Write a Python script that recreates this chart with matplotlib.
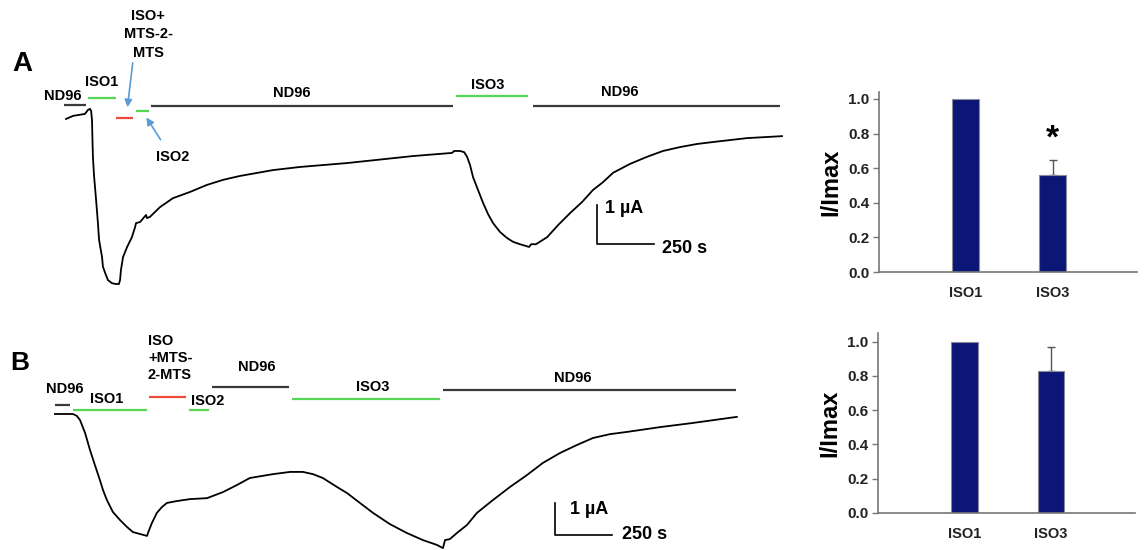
import matplotlib
matplotlib.use("Agg")
import matplotlib.pyplot as plt

plt.rcParams['font.family'] = ['Liberation Sans', 'DejaVu Sans']
plt.rcParams['font.weight'] = 'bold'

W, H = 1144, 550

# ---------------- data ----------------
# Panel A trace (time in s, current in uA, relative to start)
A_t = [0, 31, 83, 96, 105, 110, 114, 116, 118, 123, 132, 140, 145, 158, 162, 175, 184, 202,
       219, 232, 237, 241, 250, 268, 289, 303, 307, 325, 351, 355, 368, 412, 469, 544, 618,
       689, 763, 908, 1026, 1232, 1522, 1693, 1702, 1728, 1746, 1759, 1772, 1785, 1807,
       1829, 1851, 1873, 1904, 1934, 1961, 1991, 2031, 2040, 2061, 2110, 2158, 2211, 2263,
       2311, 2355, 2399, 2474, 2548, 2618, 2693, 2768, 2838, 2987, 3140]
A_i = [0, 0.08, 0.13, 0.23, 0.26, 0.21, -0.03, -0.54, -0.97, -1.46, -2.08, -2.67, -3.10,
       -3.54, -3.79, -4.00, -4.13, -4.21, -4.23, -4.23, -4.13, -3.87, -3.54, -3.28, -3.03,
       -2.77, -2.67, -2.64, -2.46, -2.54, -2.51, -2.26, -2.03, -1.87, -1.69, -1.56, -1.46,
       -1.31, -1.23, -1.13, -0.95, -0.87, -0.82, -0.82, -0.85, -0.97, -1.18, -1.49, -1.82,
       -2.15, -2.44, -2.67, -2.90, -3.05, -3.15, -3.21, -3.28, -3.21, -3.21, -3.03, -2.72,
       -2.41, -2.13, -1.82, -1.62, -1.38, -1.15, -0.97, -0.82, -0.72, -0.64, -0.59, -0.49,
       -0.44]

# Panel B trace
B_t = [0, 79, 96, 110, 132, 154, 175, 197, 211, 228, 254, 285, 316, 342, 373, 404, 408, 425,
       447, 469, 491, 535, 592, 667, 737, 798, 855, 956, 1031, 1088, 1132, 1175, 1237, 1281,
       1338, 1395, 1469, 1544, 1614, 1675, 1702, 1711, 1732, 1768, 1807, 1851, 1921, 1996,
       2070, 2140, 2215, 2289, 2360, 2434, 2509, 2654, 2798, 2991]
B_i = [0, 0, -0.06, -0.19, -0.59, -1.13, -1.59, -2.06, -2.38, -2.69, -3.06, -3.31, -3.53,
       -3.69, -3.75, -3.81, -3.72, -3.41, -3.09, -2.91, -2.78, -2.72, -2.66, -2.63, -2.44,
       -2.22, -2.00, -1.88, -1.81, -1.81, -1.88, -2.00, -2.28, -2.47, -2.78, -3.09, -3.44,
       -3.72, -3.94, -4.09, -4.19, -3.94, -3.91, -3.69, -3.47, -3.09, -2.69, -2.28, -1.91,
       -1.53, -1.22, -0.97, -0.75, -0.63, -0.56, -0.41, -0.28, -0.09]

# Solution application periods (start s, end s)
A_sol_names = ['ND96', 'ISO1', 'ISO+MTS-2-MTS', 'ISO2', 'ND96', 'ISO3', 'ND96']
A_sol_start = [-9, 96, 219, 307, 373, 1711, 2048]
A_sol_end = [88, 219, 294, 364, 1697, 2026, 3132]
B_sol_names = ['ND96', 'ISO1', 'ISO+MTS-2-MTS', 'ISO2', 'ND96', 'ISO3', 'ND96']
B_sol_start = [0, 79, 412, 588, 689, 1039, 1702]
B_sol_end = [66, 404, 575, 675, 1026, 1689, 2987]

# Bar charts
bar_categories = ['ISO1', 'ISO3']
A_bar_values = [1.0, 0.56]
A_bar_err = [0.0, 0.09]
B_bar_values = [1.0, 0.83]
B_bar_err = [0.0, 0.14]
bar_ticks = [0.0, 0.2, 0.4, 0.6, 0.8, 1.0]

# ---------------- styles ----------------
sol_color = {'ND96': '#3a3a3a', 'ISO1': '#55d655', 'ISO2': '#55d655', 'ISO3': '#55d655',
             'ISO+MTS-2-MTS': '#f04a3a'}
A_sol_levels = [0.36, 0.54, 0.03, 0.21, 0.33, 0.59, 0.33]
B_sol_levels = [0.28, 0.125, 0.53, 0.125, 0.84, 0.47, 0.75]
bar_color = '#0b1677'
arrow_color = '#5b9bd5'
FS = 10.5

fig = plt.figure(figsize=(W / 100, H / 100), dpi=100)


def px_axes(l, t, r, b):
    return fig.add_axes([l / W, 1 - b / H, (r - l) / W, (b - t) / H])


def draw_trace(ax, t, i, starts, ends, names, levels):
    ax.plot(t, i, color='black', lw=1.3, solid_joinstyle='round')
    for s, e, n, lv in zip(starts, ends, names, levels):
        ax.plot([s, e], [lv, lv], color=sol_color[n], lw=1.6, solid_capstyle='butt',
                clip_on=False)
    ax.axis('off')


def scale_bar(ax, x0, y0, tlen, ilen):
    ax.plot([x0, x0, x0 + tlen], [y0 + ilen, y0, y0], color='black', lw=1.2, clip_on=False)


# ---------------- Panel A trace ----------------
axA = px_axes(0, 0, 800, 300)
axA.set_xlim(-289.5, 3219)
axA.set_ylim(-4.64, 3.05)
draw_trace(axA, A_t, A_i, A_sol_start, A_sol_end, A_sol_names, A_sol_levels)
kw = dict(fontsize=FS, fontweight='bold', ha='center', va='center')
axA.text(-13, 0.59, 'ND96', **kw)
axA.text(158, 0.95, 'ISO1', **kw)
axA.text(360, 2.17, 'ISO+\nMTS-2-\nMTS', fontsize=FS, fontweight='bold', ha='center',
         va='center', linespacing=1.4)
axA.text(469, -0.97, 'ISO2', **kw)
axA.text(991, 0.67, 'ND96', **kw)
axA.text(1851, 0.87, 'ISO3', **kw)
axA.text(2430, 0.69, 'ND96', **kw)
axA.annotate('', xy=(268, 0.23), xytext=(294, 1.51),
             arrowprops=dict(arrowstyle='-|>', color=arrow_color, lw=1.2, mutation_scale=11))
axA.annotate('', xy=(346, 0.10), xytext=(421, -0.59),
             arrowprops=dict(arrowstyle='-|>', color=arrow_color, lw=1.2, mutation_scale=11))
scale_bar(axA, 2329, -3.21, 250, 1.0)
axA.text(2364, -2.3, '1 µA', fontsize=13, fontweight='bold', ha='left', va='center')
axA.text(2614, -3.31, '250 s', fontsize=13, fontweight='bold', ha='left', va='center')

# ---------------- Panel B trace ----------------
axB = px_axes(0, 300, 800, 550)
axB.set_xlim(-241, 3268)
axB.set_ylim(-4.25, 3.5625)
draw_trace(axB, B_t, B_i, B_sol_start, B_sol_end, B_sol_names, B_sol_levels)
axB.text(44, 0.78, 'ND96', **kw)
axB.text(228, 0.47, 'ISO1', **kw)
axB.text(408, 1.75, 'ISO\n+MTS-\n2-MTS', fontsize=FS, fontweight='bold', ha='left',
         va='center', linespacing=1.3)
axB.text(671, 0.41, 'ISO2', **kw)
axB.text(886, 1.47, 'ND96', **kw)
axB.text(1395, 0.84, 'ISO3', **kw)
axB.text(2272, 1.13, 'ND96', **kw)
scale_bar(axB, 2193, -3.78, 250, 1.0)
axB.text(2259, -3.0, '1 µA', fontsize=13, fontweight='bold', ha='left', va='center')
axB.text(2487, -3.78, '250 s', fontsize=13, fontweight='bold', ha='left', va='center')

# Panel letters
fig.text(22 / W, 1 - 64 / H, 'A', fontsize=20, fontweight='bold', ha='center', va='center')
fig.text(20 / W, 1 - 363 / H, 'B', fontsize=19, fontweight='bold', ha='center', va='center')


# ---------------- Bar charts ----------------
def bar_panel(ax, values, errs, ytop, star=False):
    x = list(range(len(bar_categories)))
    ax.bar(x, values, width=0.31, color=bar_color, edgecolor='#8a8a9a', linewidth=0.8,
           zorder=2)
    for xi, v, e in zip(x, values, errs):
        if e > 0:
            ax.errorbar([xi], [v], yerr=[[0], [e]], fmt='none', ecolor='#555555',
                        elinewidth=1.0, capsize=3, capthick=1.0, zorder=1)
            if star:
                ax.text(xi, v + e + 0.03, '*', fontsize=24, fontweight='bold',
                        ha='center', va='bottom')
    ax.set_xlim(-1.0, 1.97)
    ax.set_ylim(0, ytop)
    ax.set_yticks(bar_ticks)
    ax.set_yticklabels([f'{v:.1f}' for v in bar_ticks], fontsize=11, fontweight='bold',
                       color='#222222')
    ax.set_xticks(x)
    ax.set_xticklabels(bar_categories, fontsize=10.5, fontweight='bold', color='#222222')
    ax.tick_params(axis='x', length=0, pad=10)
    ax.tick_params(axis='y', length=4, width=1, color='#777777', pad=3)
    for s in ['top', 'right']:
        ax.spines[s].set_visible(False)
    for s in ['left', 'bottom']:
        ax.spines[s].set_color('#777777')
        ax.spines[s].set_linewidth(1.2)
    ax.set_ylabel('I/Imax', fontsize=17, fontweight='bold', labelpad=4)


axAb = px_axes(879, 92, 1137, 272)
bar_panel(axAb, A_bar_values, A_bar_err, 1.04, star=True)
axBb = px_axes(878, 333, 1135, 513)
bar_panel(axBb, B_bar_values, B_bar_err, 1.05)

fig.savefig('out.png', dpi=100, facecolor='white')
